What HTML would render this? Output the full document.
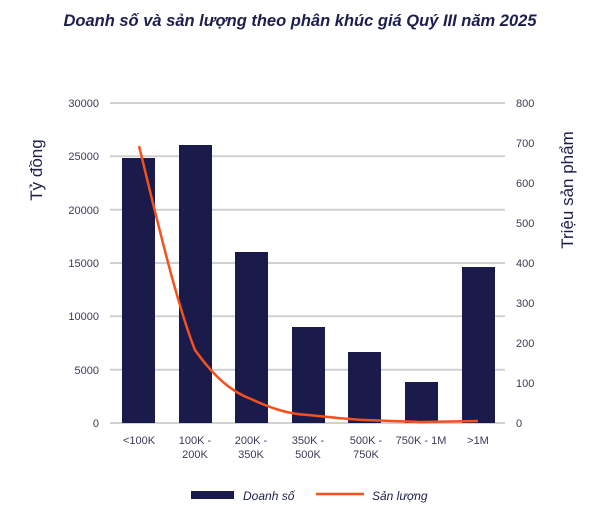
<!DOCTYPE html>
<html><head><meta charset="utf-8"><style>
body{margin:0;background:#fff;width:600px;height:518px;overflow:hidden}
text{font-family:"Liberation Sans","DejaVu Sans",sans-serif}
</style></head><body>
<svg width="600" height="518" viewBox="0 0 600 518">
<text x="300" y="26" text-anchor="middle" font-size="16.5" font-weight="bold" font-style="italic" fill="#1c1f4d">Doanh số và sản lượng theo phân khúc giá Quý III năm 2025</text>
<g stroke="#d0d0d0" stroke-width="2">
<line x1="110" y1="103" x2="505" y2="103"/><line x1="110" y1="156.3" x2="505" y2="156.3"/>
<line x1="110" y1="209.7" x2="505" y2="209.7"/><line x1="110" y1="263" x2="505" y2="263"/>
<line x1="110" y1="316.3" x2="505" y2="316.3"/><line x1="110" y1="369.7" x2="505" y2="369.7"/>
<line x1="110" y1="423" x2="505" y2="423"/>
</g>
<g font-size="11" fill="#3a3a5a" text-anchor="end">
<text x="99" y="107">30000</text><text x="99" y="160">25000</text><text x="99" y="214">20000</text>
<text x="99" y="267">15000</text><text x="99" y="320">10000</text><text x="99" y="374">5000</text><text x="99" y="427">0</text>
</g>
<g font-size="11" fill="#3a3a5a">
<text x="516" y="107">800</text><text x="516" y="147">700</text><text x="516" y="187">600</text><text x="516" y="227">500</text>
<text x="516" y="267">400</text><text x="516" y="307">300</text><text x="516" y="347">200</text><text x="516" y="387">100</text><text x="516" y="427">0</text>
</g>
<text transform="translate(42,170) rotate(-90)" text-anchor="middle" font-size="17" fill="#1c1f4d">Tỷ đồng</text>
<text transform="translate(573,190) rotate(-90)" text-anchor="middle" font-size="17" fill="#1c1f4d">Triệu sản phẩm</text>
<g fill="#1b1b4b">
<rect x="122" y="158" width="33" height="265"/><rect x="179" y="145" width="33" height="278"/>
<rect x="235" y="252" width="33" height="171"/><rect x="292" y="327" width="33" height="96"/>
<rect x="348" y="352" width="33" height="71"/><rect x="405" y="382" width="33" height="41"/>
<rect x="462" y="267" width="33" height="156"/>
</g>
<path d="M139,146 C150,190 175,300 195,350 C215,378 232,392 251,399 C275,410 290,414 308,415 C330,417 345,419 364,420 L421,422 L478,421" fill="none" stroke="#f4511e" stroke-width="2.5"/>
<g font-size="11" fill="#3a3a5a" text-anchor="middle">
<text x="139" y="444">&lt;100K</text>
<text x="195" y="444">100K -</text><text x="195" y="458">200K</text>
<text x="251" y="444">200K -</text><text x="251" y="458">350K</text>
<text x="308" y="444">350K -</text><text x="308" y="458">500K</text>
<text x="366" y="444">500K -</text><text x="366" y="458">750K</text>
<text x="421" y="444">750K - 1M</text>
<text x="478" y="444">&gt;1M</text>
</g>
<rect x="191" y="491" width="43" height="8" fill="#1b1b4b"/>
<text x="243" y="500" font-size="12" font-style="italic" fill="#1c1f4d">Doanh số</text>
<line x1="316" y1="494" x2="364" y2="494" stroke="#f4511e" stroke-width="2.5"/>
<text x="372" y="500" font-size="12" font-style="italic" fill="#1c1f4d">Sản lượng</text>
</svg>
</body></html>
